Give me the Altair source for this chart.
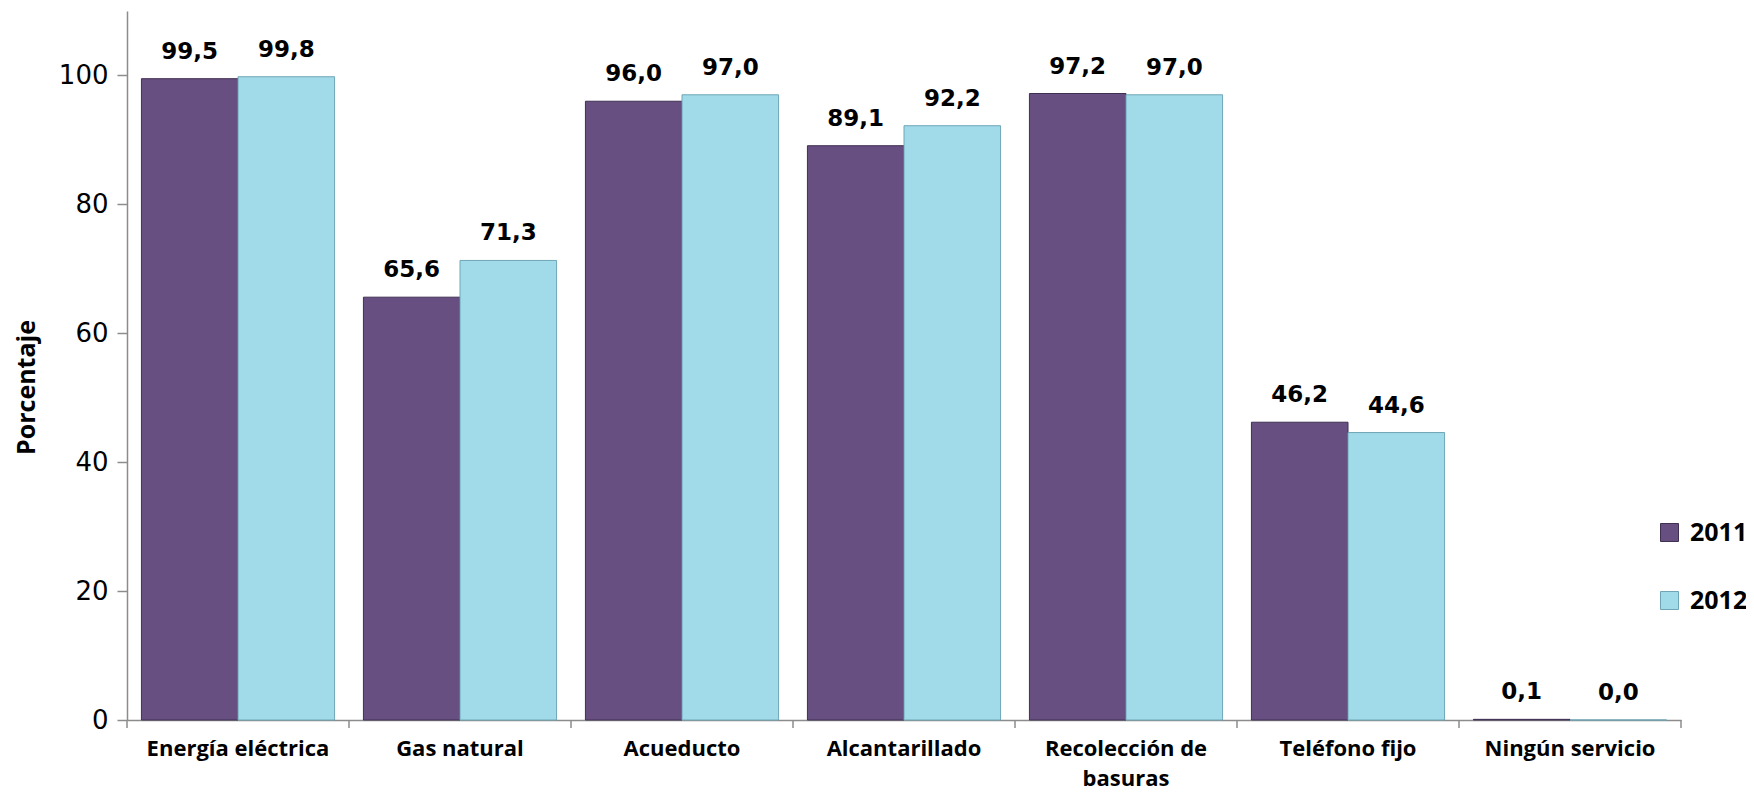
import altair as alt
import pandas as pd

categories = ["Energía eléctrica", "Gas natural", "Acueducto", "Alcantarillado",
              "Recolección de basuras", "Teléfono fijo", "Ningún servicio"]
years = ["2011", "2012"]
v2011 = [99.5, 65.6, 96.0, 89.1, 97.2, 46.2, 0.1]
v2012 = [99.8, 71.3, 97.0, 92.2, 97.0, 44.6, 0.0]
y_ticks = [0, 20, 40, 60, 80, 100]

rows = []
for c, a, b in zip(categories, v2011, v2012):
    rows.append({"Servicio": c, "Año": "2011", "Valor": a})
    rows.append({"Servicio": c, "Año": "2012", "Valor": b})
df = pd.DataFrame(rows)
df["Etiqueta"] = df["Valor"].map(lambda v: f"{v:.1f}".replace(".", ","))

bounds = pd.DataFrame({"b": list(range(len(categories) + 1))})

fill_colors = ["#674f82", "#a1dae9"]
stroke_colors = ["#3f3052", "#6fa6b6"]
axis_gray = "#8c8c8c"

x_enc = alt.X(
    "Servicio:N", sort=categories,
    scale=alt.Scale(paddingInner=0.13, paddingOuter=0.065),
    axis=alt.Axis(
        title=None, labelAngle=0, ticks=False, tickSize=0,
        domainColor=axis_gray, domainWidth=1.5, labelLimit=400,
        labelFont="Open Sans", labelFontWeight="bold", labelFontSize=22,
        labelColor="black", labelPadding=18, labelLineHeight=30,
        labelExpr="datum.label == 'Recolección de basuras' ? ['Recolección de', 'basuras'] : datum.label",
    ),
)
xo_enc = alt.XOffset("Año:N", sort=years, scale=alt.Scale(paddingInner=0, paddingOuter=0))
y_enc = alt.Y(
    "Valor:Q",
    scale=alt.Scale(domain=[0, 110], nice=False),
    axis=alt.Axis(
        values=y_ticks, grid=False, title="Porcentaje",
        domainColor=axis_gray, domainWidth=1.5, tickColor=axis_gray, tickSize=10, tickWidth=1.5,
        labelFont="DejaVu Sans", labelFontSize=26, labelColor="black", labelPadding=9,
        titleFont="Open Sans", titleFontWeight="bold", titleFontSize=25, titleColor="black",
        titleX=-101, titleY=376, titleAlign="center", titleBaseline="middle",
    ),
)

bars = alt.Chart(df).mark_bar(strokeWidth=1).encode(
    x=x_enc,
    xOffset=xo_enc,
    y=y_enc,
    color=alt.Color(
        "Año:N", sort=years,
        scale=alt.Scale(domain=years, range=fill_colors),
        legend=alt.Legend(
            title=None, orient="none", legendX=1530, legendY=509,
            symbolType="square", symbolSize=324, symbolStrokeWidth=1,
            symbolStrokeColor="#555555",
            labelFont="Open Sans", labelFontWeight="bold", labelFontSize=25,
            labelColor="black", labelOffset=8, rowPadding=42, padding=0,
        ),
    ),
    stroke=alt.Stroke("Año:N", scale=alt.Scale(domain=years, range=stroke_colors), legend=None),
)

labels = alt.Chart(df).mark_text(
    dy=-20, baseline="alphabetic", font="DejaVu Sans", fontWeight="bold",
    fontSize=23, color="black",
).encode(x=x_enc, xOffset=xo_enc, y=y_enc, text="Etiqueta:N")

ticks = alt.Chart(bounds).mark_rule(color=axis_gray, strokeWidth=1.5).encode(
    x=alt.X("b:Q", scale=alt.Scale(domain=[0, len(categories)], nice=False, zero=False), axis=None),
    y=alt.value(709),
    y2=alt.value(717),
)

chart = alt.layer(alt.layer(bars, labels), ticks).resolve_scale(x="independent").properties(
    width=1554, height=709,
    autosize=alt.AutoSizeParams(type="none"),
    padding={"left": 119, "top": 3, "right": 65, "bottom": 72},
).configure_view(stroke=None)

chart.save("out.html", embed_options={"renderer": "svg", "actions": False})
